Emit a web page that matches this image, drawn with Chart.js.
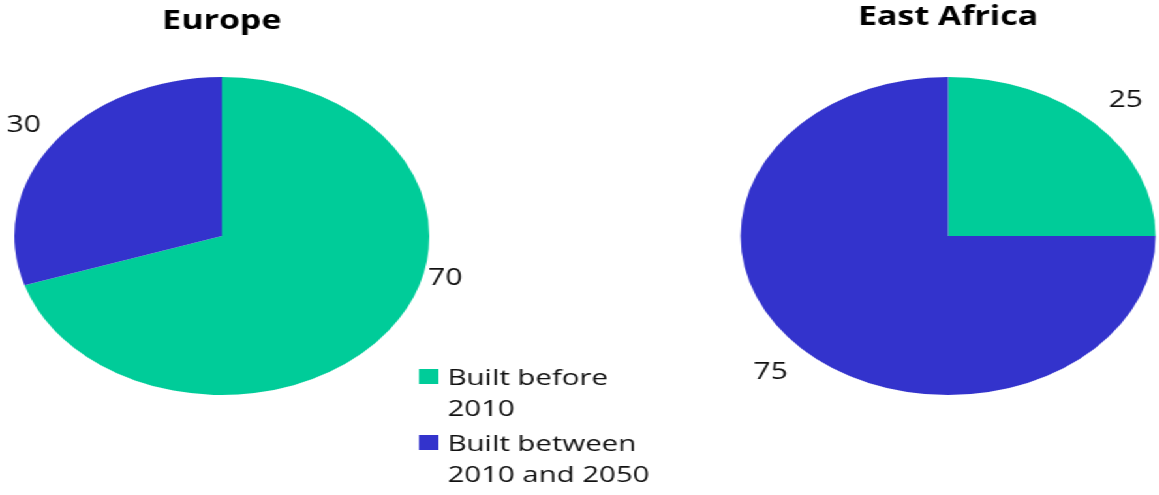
<!DOCTYPE html>
<html>
<head>
<meta charset="utf-8">
<script src="https://cdn.jsdelivr.net/npm/chart.js@4/dist/chart.umd.min.js"></script>
<style>
    html, body { margin: 0; padding: 0; overflow: hidden; background: #fff; width: 1159px; height: 495px; }
    /* the original picture is stretched sideways, so the whole stage is too */
    #stage { position: absolute; left: 0; top: 0; width: 888px; height: 495px; transform: scaleX(1.305); transform-origin: 0 0; }
    #europe { position: absolute; left: 0; top: 0; }
    #africa { position: absolute; left: 560px; top: 0; }
</style>
</head>
<body>
<div id="stage">
    <canvas id="europe" width="520" height="495"></canvas>
    <canvas id="africa" width="333" height="495"></canvas>
</div>
<script>
const categories = ['Built before 2010', 'Built between 2010 and 2050'];
const europeValues = [70, 30];
const eastAfricaValues = [25, 75];
const sliceColors = ['#00CC99', '#3333CC'];

const FONT = '"Open Sans", "Noto Sans", sans-serif';

// the "70" label sits higher than its slice middle, out of the legend's way
const labelOverrides = {
    europe: {0: {angle: 104, factor: 1.11}}
};

// value labels just outside each slice
const sliceLabels = {
    id: 'sliceLabels',
    afterDatasetsDraw: function (chart, args, opts) {
        let ctx = chart.ctx,
            meta = chart.getDatasetMeta(0),
            values = chart.data.datasets[0].data,
            overrides = labelOverrides[chart.canvas.id] || {};
        ctx.save();
        ctx.font = '23px ' + FONT;
        ctx.fillStyle = '#111';
        ctx.textAlign = 'center';
        ctx.textBaseline = 'middle';
        meta.data.forEach((arc, i) => {
            let p = arc.getProps(['x', 'y', 'startAngle', 'endAngle', 'outerRadius'], true);
            let angle = (p.startAngle + p.endAngle) / 2,
                factor = opts.factor;
            let o = overrides[i];
            if (o) {
                angle = o.angle * Math.PI / 180 - Math.PI / 2;
                factor = o.factor;
            }
            let r = p.outerRadius * factor;
            ctx.fillText(values[i], p.x + Math.cos(angle) * r, p.y + Math.sin(angle) * r);
        });
        ctx.restore();
    }
};

function wrapText(ctx, text, maxWidth) {
    let words = text.split(' '), lines = [], line = '';
    for (let w of words) {
        let test = line ? line + ' ' + w : w;
        if (line && ctx.measureText(test).width > maxWidth) {
            lines.push(line);
            line = w;
        } else {
            line = test;
        }
    }
    lines.push(line);
    return lines;
}

// legend drawn under the right side of the first pie
const sideLegend = {
    id: 'sideLegend',
    afterDraw: function (chart, args, opts) {
        let ctx = chart.ctx,
            y = opts.y;
        ctx.save();
        ctx.font = '22.5px ' + FONT;
        ctx.textBaseline = 'alphabetic';
        chart.data.labels.forEach((label, i) => {
            let lines = wrapText(ctx, label, opts.maxWidth);
            ctx.fillStyle = chart.data.datasets[0].backgroundColor[i];
            ctx.fillRect(opts.x, y - 16, 15, 15);
            ctx.fillStyle = '#111';
            lines.forEach((line, j) => ctx.fillText(line, opts.x + 22, y + j * 31));
            y += lines.length * 31 + 4;
        });
        ctx.restore();
    }
};

function pieConfig(title, values, titlePad, padding, plugins) {
    return {
        type: 'pie',
        data: {
            labels: categories,
            datasets: [{
                data: values,
                backgroundColor: sliceColors,
                borderWidth: 0,
                offset: 0,
                hoverOffset: 0
            }]
        },
        options: {
            responsive: false,
            animation: false,
            devicePixelRatio: 1,
            layout: {padding: padding},
            plugins: Object.assign({
                legend: {display: false},
                tooltip: {enabled: false},
                title: {
                    display: true,
                    text: title,
                    color: '#000',
                    font: {family: FONT, size: 26, weight: 'bold'},
                    padding: titlePad
                }
            }, plugins)
        },
        plugins: [sliceLabels, sideLegend]
    };
}

new Chart(document.getElementById('europe'), pieConfig(
    'Europe', europeValues,
    {top: 6, bottom: 39.8},
    {top: 0, right: 180, bottom: 100, left: 0},
    {
        sliceLabels: {factor: 1.18},
        sideLegend: {x: 321, y: 385, maxWidth: 168}
    }
));

new Chart(document.getElementById('africa'), pieConfig(
    'East Africa', eastAfricaValues,
    {top: 2, bottom: 43.8},
    {top: 0, right: 0, bottom: 100, left: 0},
    {
        sliceLabels: {factor: 1.21},
        sideLegend: false
    }
));
</script>
</body>
</html>
